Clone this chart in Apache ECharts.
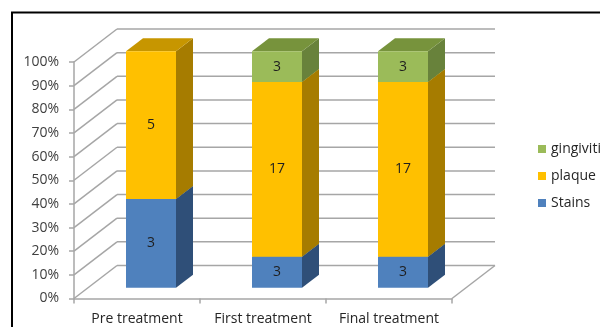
<!DOCTYPE html>
<html>
<head>
<meta charset="utf-8">
<script src="https://cdn.jsdelivr.net/npm/echarts@6/dist/echarts.min.js"></script>
<style>
  html, body { margin: 0; padding: 0; background: #fff; }
  #main { width: 600px; height: 327px; }
</style>
</head>
<body>
<div id="main"></div>
<script>
// data
var categories = ['Pre treatment', 'First treatment', 'Final treatment'];
var stains = [3, 3, 3];
var plaque = [5, 17, 17];
var gingiviti = [0, 3, 3];
var yTicks = [0, 10, 20, 30, 40, 50, 60, 70, 80, 90, 100];

// fake 3d geometry (px)
var WALL_DX = 43, WALL_DY = -33;   // depth of the walls/floor
var BAR_OX = 14, BAR_OY = -10.8;   // bar front face set back from the front edge
var BAR_DX = 17, BAR_DY = -13;     // bar depth
var BAR_HALF = 25;
var GRID_COLOR = '#a6a6a6';
var FONT = '"Open Sans", Lato, sans-serif';

var chart = echarts.init(document.getElementById('main'));

// 100% stacking
function stackData(idx) {
  var out = [];
  for (var i = 0; i < categories.length; i++) {
    var total = stains[i] + plaque[i] + gingiviti[i];
    var parts = [stains[i], plaque[i], gingiviti[i]];
    var lo = 0;
    for (var k = 0; k < idx; k++) lo += parts[k];
    var hi = lo + parts[idx];
    out.push([i, lo / total * 100, hi / total * 100, parts[idx]]);
  }
  return out;
}

function renderWall(params, api) {
  var cs = params.coordSys;
  var v = api.value(1);
  var y = api.coord([0, v])[1];
  var x0 = cs.x, x1 = cs.x + cs.width;
  var st = { stroke: GRID_COLOR, lineWidth: 1.5 };
  var children = [
    { type: 'line', shape: { x1: x0, y1: y, x2: x0 + WALL_DX, y2: y + WALL_DY }, style: st },
    { type: 'line', shape: { x1: x0 + WALL_DX, y1: y + WALL_DY, x2: x1 + WALL_DX, y2: y + WALL_DY }, style: st }
  ];
  if (v === 0) {
    children.push({ type: 'line', shape: { x1: x1, y1: y, x2: x1 + WALL_DX, y2: y + WALL_DY }, style: st });
  }
  return { type: 'group', children: children };
}

function makeBar(front, side, top) {
  return function (params, api) {
    var cat = api.value(0), lo = api.value(1), hi = api.value(2), raw = api.value(3);
    if (hi - lo <= 0) return;
    var pLo = api.coord([cat, lo]), pHi = api.coord([cat, hi]);
    var cx = pLo[0] + BAR_OX;
    var xl = cx - BAR_HALF, xr = cx + BAR_HALF;
    var yb = pLo[1] + BAR_OY, yt = pHi[1] + BAR_OY;
    return {
      type: 'group',
      children: [
        { type: 'polygon', shape: { points: [[xr, yb], [xr + BAR_DX, yb + BAR_DY], [xr + BAR_DX, yt + BAR_DY], [xr, yt]] }, style: { fill: side } },
        { type: 'polygon', shape: { points: [[xl, yt], [xr, yt], [xr + BAR_DX, yt + BAR_DY], [xl + BAR_DX, yt + BAR_DY]] }, style: { fill: top } },
        { type: 'rect', shape: { x: xl, y: yt, width: xr - xl, height: yb - yt }, style: { fill: front } },
        { type: 'text', style: { text: String(raw), x: cx, y: (yt + yb) / 2, align: 'center', verticalAlign: 'middle', fill: '#1f1f1f', font: '14px ' + FONT } }
      ]
    };
  };
}

var option = {
  animation: false,
  backgroundColor: '#fff',
  graphic: [{
    type: 'polyline',
    shape: { points: [[12, 330], [12, 12.5], [610, 12.5]] },
    style: { stroke: '#000', lineWidth: 2, fill: null },
    silent: true
  }],
  legend: {
    data: ['gingiviti', 'plaque', 'Stains'],
    orient: 'vertical',
    left: 533,
    top: 137,
    icon: 'rect',
    itemWidth: 8,
    itemHeight: 8,
    itemGap: 13,
    textStyle: { fontFamily: FONT, fontSize: 14, color: '#262626' }
  },
  grid: { left: 74, top: 62, right: 148, bottom: 28.5 },
  xAxis: {
    type: 'category',
    data: categories,
    axisLine: { lineStyle: { color: GRID_COLOR, width: 1.5 } },
    axisTick: { show: true, length: 5, lineStyle: { color: GRID_COLOR, width: 1.5 } },
    axisLabel: { interval: 0, hideOverlap: false, margin: 14, fontFamily: FONT, fontSize: 14, color: '#262626' }
  },
  yAxis: {
    type: 'value',
    min: 0,
    max: 100,
    interval: 10,
    axisLine: { show: true, lineStyle: { color: GRID_COLOR, width: 1.5 } },
    axisTick: { show: true, length: 5, lineStyle: { color: GRID_COLOR, width: 1.5 } },
    splitLine: { show: false },
    axisLabel: { margin: 15, formatter: '{value}%', fontFamily: FONT, fontSize: 14, color: '#404040' }
  },
  series: [
    {
      name: 'wall', type: 'custom', silent: true, z: 1,
      renderItem: renderWall,
      encode: { x: 0, y: 1 },
      data: yTicks.map(function (v) { return [0, v]; })
    },
    {
      name: 'Stains', type: 'custom', z: 2,
      itemStyle: { color: '#4f81bd' },
      renderItem: makeBar('#4f81bd', '#2f4f78', '#3a6496'),
      encode: { x: 0, y: [1, 2] },
      data: stackData(0)
    },
    {
      name: 'plaque', type: 'custom', z: 2,
      itemStyle: { color: '#ffc000' },
      renderItem: makeBar('#ffc000', '#a67c00', '#c79600'),
      encode: { x: 0, y: [1, 2] },
      data: stackData(1)
    },
    {
      name: 'gingiviti', type: 'custom', z: 2,
      itemStyle: { color: '#9bbb59' },
      renderItem: makeBar('#9bbb59', '#68823b', '#77933c'),
      encode: { x: 0, y: [1, 2] },
      data: stackData(2)
    }
  ]
};

chart.setOption(option);
</script>
</body>
</html>
